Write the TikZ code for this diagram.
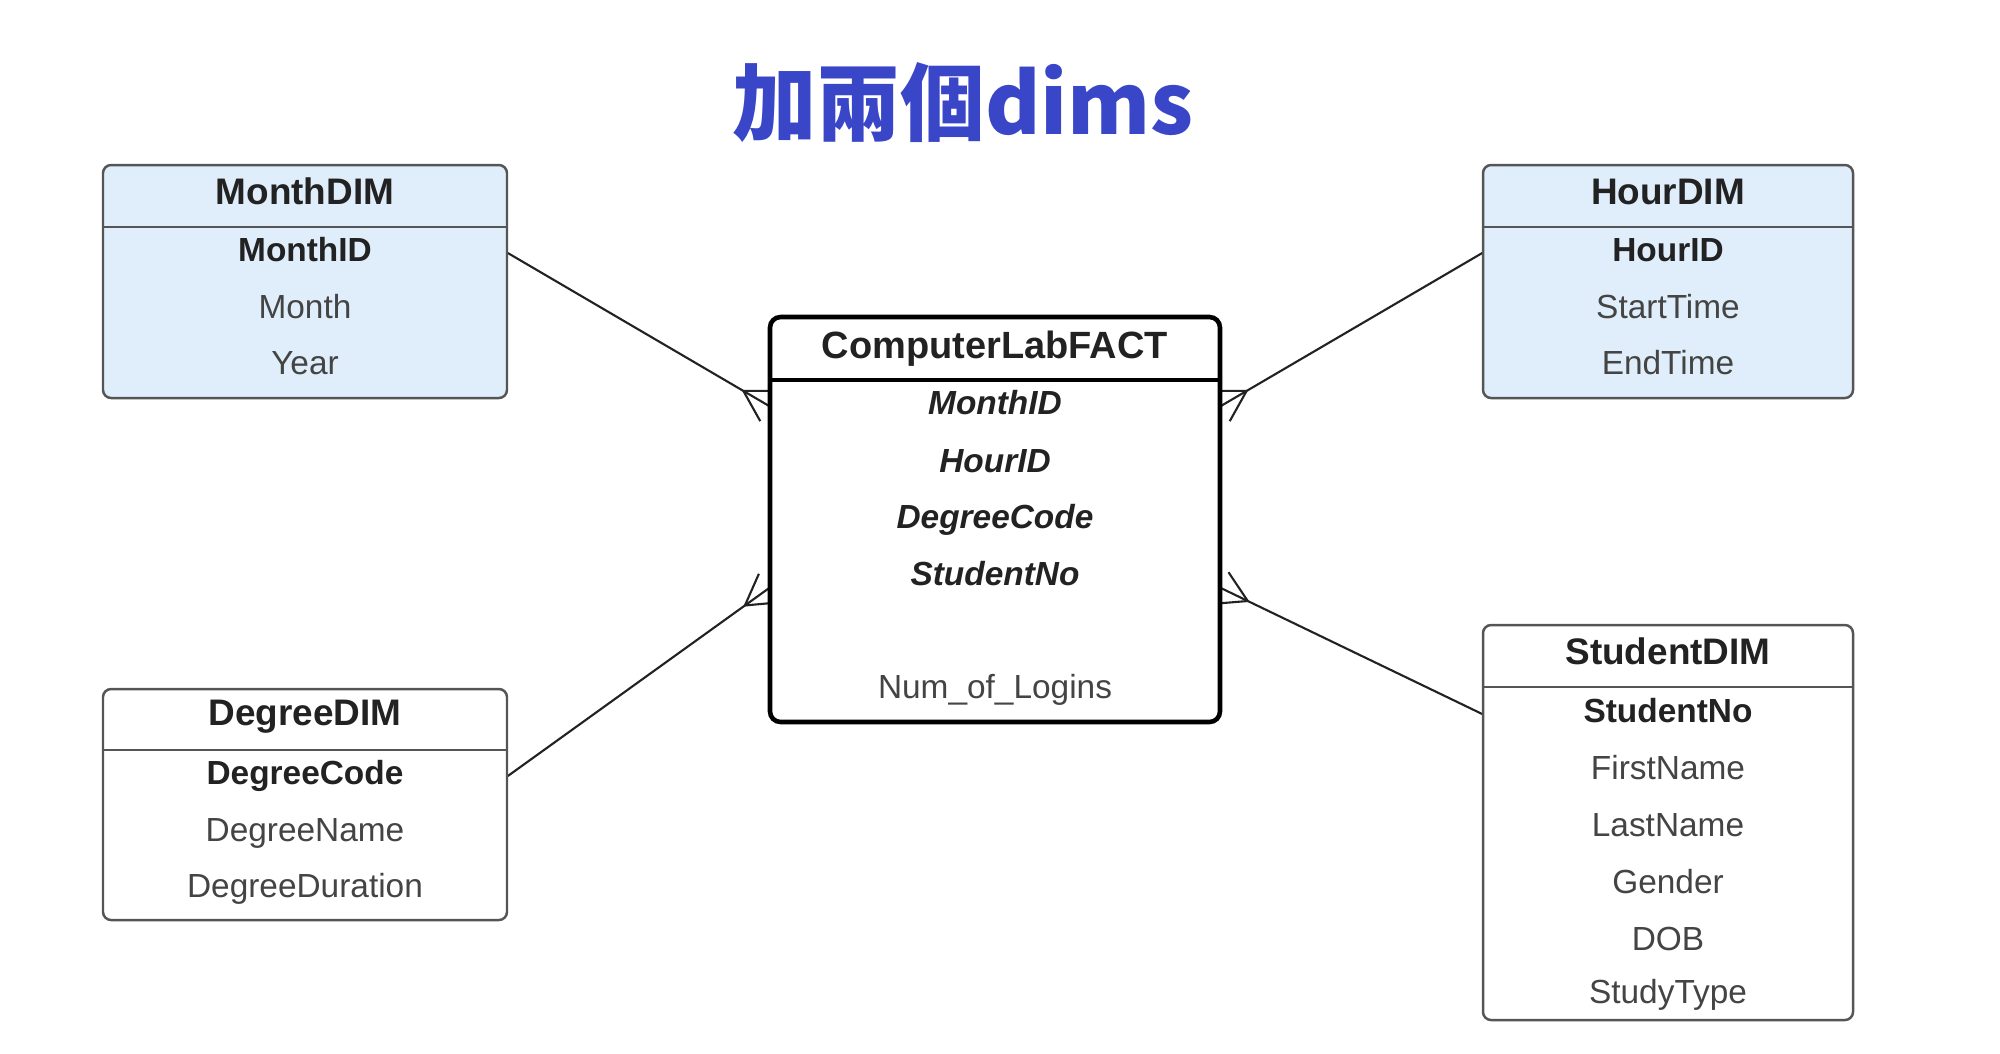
\documentclass[tikz,border=0pt]{standalone}
\usepackage{fontspec}
\setmainfont{Liberation Sans}
\newfontfamily\cjk{Noto Sans CJK TC}
\usepackage{tikz}
\usetikzlibrary{calc,backgrounds}
\definecolor{blue1}{RGB}{58,70,200}
\definecolor{fill1}{RGB}{223,238,250}
\definecolor{gray1}{RGB}{85,85,85}
\definecolor{gray2}{RGB}{68,68,68}
\definecolor{dark1}{RGB}{34,34,34}
% crow's foot at the fact end of a link
\newcommand{\crowfoot}[2]{%
  \draw[link] ($(#2)!8.5pt!(#1)$) -- ($(#2)!5pt!90:(#1)$);
  \draw[link] ($(#2)!8.5pt!(#1)$) -- ($(#2)!5pt!-90:(#1)$);
}
\tikzset{
  link/.style={draw=dark1, line width=0.6pt},
  dimbox/.style={draw=gray1, line width=0.7pt, rounded corners=2.3pt},
  factbox/.style={draw=black, line width=1.3pt, rounded corners=3pt, fill=white},
  hdr/.style={font=\fontsize{10.5}{12}\selectfont\bfseries, text=dark1, inner sep=0pt, text height=7.6pt, text depth=2.2pt},
  row/.style={font=\fontsize{9.5}{11}\selectfont, text=gray2, inner sep=0pt, text height=7pt, text depth=2pt},
  keyrow/.style={row, font=\fontsize{9.5}{11}\selectfont\bfseries, text=dark1},
  fkrow/.style={row, font=\fontsize{9.5}{11}\selectfont\bfseries\itshape, text=dark1},
}

\begin{document}
\begin{tikzpicture}[x=0.01cm, y=-0.01cm]
    \useasboundingbox (0,0) rectangle (2000,1053);
    % Title
    \node[text=blue1, font=\cjk\bfseries\fontsize{24}{28}\selectfont] (title) at (963,103) {加兩個dims};
    % MonthDIM
    \draw[dimbox, fill=fill1] (103,165) rectangle (507,398);
    \draw[dimbox] (103,227) -- (507,227);
    \node[hdr] (monthdim) at (305,195) {MonthDIM};
    \node[keyrow, minimum width=4.04cm] (m-monthid) at (305,253) {MonthID};
    \node[row] (m-month) at (305,310) {Month};
    \node[row] (m-year) at (305,366) {Year};
    % HourDIM
    \draw[dimbox, fill=fill1] (1483,165) rectangle (1853,398);
    \draw[dimbox] (1483,227) -- (1853,227);
    \node[hdr] (hourdim) at (1668,195) {HourDIM};
    \node[keyrow, minimum width=3.70cm] (h-hourid) at (1668,253) {HourID};
    \node[row] (h-start) at (1668,310) {StartTime};
    \node[row] (h-end) at (1668,366) {EndTime};
    % DegreeDIM
    \draw[dimbox, fill=white] (103,689) rectangle (507,920);
    \draw[dimbox] (103,750) -- (507,750);
    \node[hdr] (degreedim) at (305,716) {DegreeDIM};
    \node[keyrow, minimum width=4.04cm] (d-code) at (305,776) {DegreeCode};
    \node[row] (d-name) at (305,833) {DegreeName};
    \node[row] (d-dur) at (305,889) {DegreeDuration};
    % StudentDIM
    \draw[dimbox, fill=white] (1483,625) rectangle (1853,1020);
    \draw[dimbox] (1483,687) -- (1853,687);
    \node[hdr] (studentdim) at (1668,655) {StudentDIM};
    \node[keyrow, minimum width=3.70cm] (s-no) at (1668,714) {StudentNo};
    \node[row] (s-first) at (1668,771) {FirstName};
    \node[row] (s-last) at (1668,828) {LastName};
    \node[row] (s-gender) at (1668,885) {Gender};
    \node[row] (s-dob) at (1668,942) {DOB};
    \node[row] (s-type) at (1668,995) {StudyType};
    % ComputerLabFACT
    \draw[factbox] (770,317) rectangle (1220,722);
    \draw[line width=1.3pt] (770,380) -- (1220,380);
    \node[hdr, font=\fontsize{10.8}{13}\selectfont\bfseries] (fact) at (995,349) {ComputerLabFACT};
    \node[fkrow, minimum width=4.5cm] (f-monthid) at (995,406) {MonthID};
    \node[fkrow] (f-hourid) at (995,464) {HourID};
    \node[fkrow] (f-degree) at (995,520) {DegreeCode};
    \node[fkrow, minimum width=4.5cm] (f-studentno) at (995,577) {StudentNo};
    \node[row] (f-logins) at (995,690) {Num\_of\_Logins};
    \coordinate (f-left) at ($(f-studentno.west)+(0,11)$);
    \coordinate (f-right) at ($(f-studentno.east)+(0,11)$);
    % Links
    \begin{scope}[on background layer]
        \draw[link] (m-monthid.east) -- (f-monthid.west);
        \crowfoot{m-monthid.east}{f-monthid.west}
        \draw[link] (h-hourid.west) -- (f-monthid.east);
        \crowfoot{h-hourid.west}{f-monthid.east}
        \draw[link] (d-code.east) -- (f-left);
        \crowfoot{d-code.east}{f-left}
        \draw[link] (s-no.west) -- (f-right);
        \crowfoot{s-no.west}{f-right}
    \end{scope}
\end{tikzpicture}
\end{document}
